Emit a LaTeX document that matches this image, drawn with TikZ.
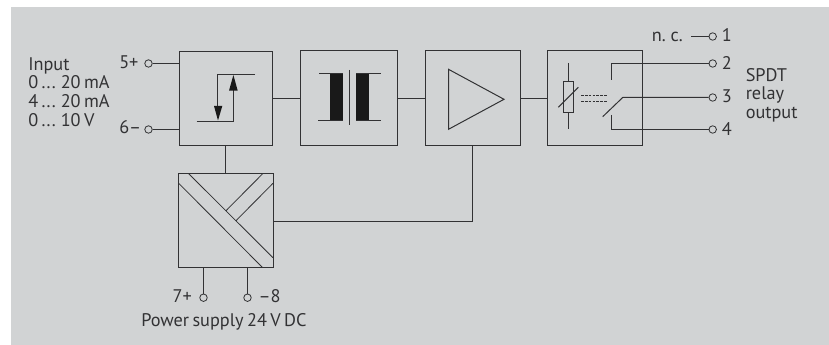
\documentclass[tikz,border=0pt]{standalone}
\usepackage{fontspec}
\setmainfont[WordSpace=0.7]{PT Sans}
\definecolor{bg}{RGB}{209,211,212}
\definecolor{ink}{RGB}{50,50,52}
\tikzset{
  x=0.75pt,y=-0.75pt,
  ln/.style={draw=ink,line width=0.75pt},
  thin ln/.style={draw=ink,line width=0.6pt},
  boxn/.style n args={2}{draw=ink,line width=1pt,inner sep=0,outer sep=0,minimum width=#1*0.75pt,minimum height=#2*0.75pt,anchor=north west},
  term/.style={circle,draw=ink,line width=0.6pt,fill=bg,inner sep=0,minimum size=5.6pt},
  lbl/.style={inner sep=0,text=ink,font=\fontsize{13.7pt}{14pt}\selectfont,anchor=base west},
  multi/.style={inner sep=0,text=ink,font=\fontsize{13.7pt}{14pt}\selectfont,align=left,anchor=north west},
  solid ink/.style={fill=black!90},
}
\begin{document}
\begin{tikzpicture}
\useasboundingbox (0,0) rectangle (829,345);
\fill[bg] (11,7) rectangle (829,345);
% blocks
\node[boxn={93}{94}] (b1) at (179.5,51.5) {};
\node[boxn={97}{95}] (b2) at (300.5,50.5) {};
\node[boxn={95}{95}] (b3) at (425.5,50.5) {};
\node[boxn={95}{95}] (b4) at (547.5,50.5) {};
\node[boxn={95}{94}] (b5) at (178.5,173.5) {};
\coordinate (row) at (0,98.5);
% connectors between blocks
\draw[ln] (b1.east |- row) -- (b2.west |- row);
\draw[ln] (b2.east |- row) -- (b3.west |- row);
\draw[ln] (b3.east |- row) -- (b4.west |- row);
\coordinate (dn) at (225.5,0);
\draw[ln] (dn |- b1.south) -- (dn |- b5.north);
\coordinate (amp) at (472.5,221.5);
\draw[ln] (amp -| b5.east) -- (amp) -- (amp |- b3.south);
% input terminals
\node[term] (t5) at (148.5,63.5) {};
\node[term] (t6) at (148.5,129.5) {};
\draw[ln] (t5) -- (t5 -| b1.west);
\draw[ln] (t6) -- (t6 -| b1.west);
\node[lbl] (l5) at (119,68.3) {5+};
\node[lbl] (l6) at (119,133.5) {6–};
\node[multi] (inp) at (28,57) {Input\\0 ... 20 mA\\4 ... 20 mA\\0 ... 10 V};
% hysteresis symbol
\coordinate (h1) at (255,74.5); \coordinate (h2) at (217.5,74.5); \coordinate (h3) at (217.5,110);
\coordinate (h4) at (196.7,121.5); \coordinate (h5) at (233.5,121.5); \coordinate (h6) at (233.5,85);
\draw[ln] (h1) -- (h2) -- (h3);
\draw[ln] (h4) -- (h5) -- (h6);
\fill[solid ink] (218,120.5) -- (214,106) -- (222.3,106) -- cycle;
\fill[solid ink] (233.4,75) -- (229,90.7) -- (237.7,90.7) -- cycle;
% transformer
\fill[solid ink] (330,72.7) rectangle (343.3,121);
\fill[solid ink] (356,72.7) rectangle (369.3,121);
\draw[ln] (319,73.5) -- (343,73.5);
\draw[ln] (318,120.5) -- (343,120.5);
\draw[ln] (356,73.5) -- (380.7,73.5);
\draw[ln] (356,120.5) -- (380.7,120.5);
\draw[ln] (349.5,70) -- (349.5,125);
% amplifier
\draw[ln] (448.5,69.3) -- (504,99.3) -- (448.5,129.3) -- cycle;
% relay
\draw[ln] (568.5,63) -- (568.5,129);
\draw[ln,fill=bg] (563.5,81.5) rectangle (573.5,112.5);
\draw[ln] (558.3,107.3) -- (578.3,87.3);
\draw[thin ln,dash pattern=on 2pt off 0.9pt] (581,95.5) -- (607,95.5);
\draw[thin ln,dash pattern=on 2pt off 0.9pt] (581,101.5) -- (607,101.5);
% output terminals
\node[term] (t1) at (712.7,36.5) {};
\node[term] (t2) at (712.7,63.5) {};
\node[term] (t3) at (712.7,97.5) {};
\node[term] (t4) at (712.7,129.5) {};
\coordinate (n1) at (691,36.5);
\draw[ln] (n1) -- (t1);
\coordinate (c2) at (611.5,80); \coordinate (c2b) at (611.5,63.5);
\draw[ln] (c2) -- (c2b) -- (t2);
\coordinate (c3) at (602.7,116.7); \coordinate (c3b) at (622.7,97.5);
\draw[ln] (c3) -- (c3b) -- (t3);
\coordinate (c4) at (611.5,115); \coordinate (c4b) at (611.5,129.5);
\draw[ln] (c4) -- (c4b) -- (t4);
\node[lbl] (ll1) at (721.5,41.5) {1};
\node[lbl] (ll2) at (721.5,69.3) {2};
\node[lbl] (ll3) at (721.5,102.7) {3};
\node[lbl] (ll4) at (721.5,135.5) {4};
\node[lbl] (nc) at (651.5,41.5) {n. c.};
\node[multi] (spdt) at (745.5,68) {SPDT\\relay\\output};
% power supply
\coordinate (p1) at (178.7,183.3); \coordinate (p2) at (262.7,267.7);
\coordinate (p3) at (188.7,173.7); \coordinate (p4) at (273,257.7);
\coordinate (p5) at (226,210.7); \coordinate (p6) at (262.7,173.7);
\coordinate (p7) at (236,220.7); \coordinate (p8) at (273,183.3);
\draw[thin ln] (p1) -- (p2);
\draw[thin ln] (p3) -- (p4);
\draw[thin ln] (p5) -- (p6);
\draw[thin ln] (p7) -- (p8);
\node[term] (t7) at (203.5,297.7) {};
\node[term] (t8) at (247.5,297.7) {};
\draw[ln] (t7) -- (t7 |- b5.south);
\draw[ln] (t8) -- (t8 |- b5.south);
\node[lbl] (l7) at (172.3,302.7) {7+};
\node[lbl] (l8) at (258.3,302.7) {–8};
\node[lbl] (ps) at (141,326.7) {Power supply 24 V DC};
\end{tikzpicture}
\end{document}
